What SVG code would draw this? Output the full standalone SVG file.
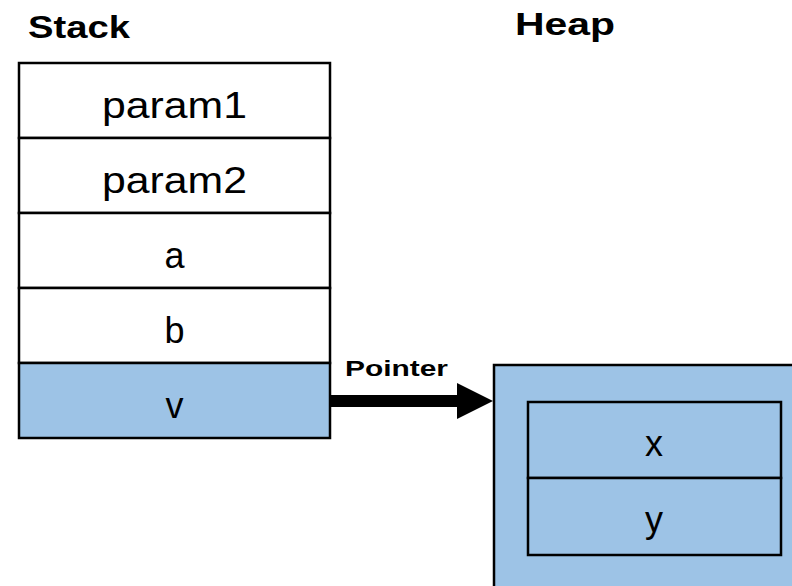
<svg xmlns="http://www.w3.org/2000/svg" width="792" height="586" viewBox="0 0 792 586">
  <style>
    .cell { stroke: #000; stroke-width: 2.5; }
    .plain { fill: #fff; }
    .blue { fill: #9DC3E6; }
    .title { font-family: "Liberation Sans", Arial, sans-serif; font-weight: bold; font-size: 32px; fill: #000; }
    .label { font-family: "Liberation Sans", Arial, sans-serif; font-size: 36px; fill: #000; text-anchor: middle; }
    .conn-label { font-family: "Liberation Sans", Arial, sans-serif; font-weight: bold; font-size: 22px; fill: #000; }
  </style>
  <defs>
    <marker id="arrowhead" markerUnits="userSpaceOnUse" markerWidth="36" markerHeight="36" refX="0" refY="18" orient="auto">
      <path d="M0,0 L36,18 L0,36 Z" fill="#000"/>
    </marker>
  </defs>
  <rect width="792" height="586" fill="#fff"/>

  <text class="title" x="28" y="38" textLength="102" lengthAdjust="spacingAndGlyphs">Stack</text>
  <text class="title" x="515" y="35" textLength="100" lengthAdjust="spacingAndGlyphs">Heap</text>

  <!-- stack frame -->
  <g id="stack">
    <g id="param1">
      <rect class="cell plain" x="19" y="63" width="311" height="75"/>
      <text class="label" x="174.5" y="118" textLength="145" lengthAdjust="spacingAndGlyphs">param1</text>
    </g>
    <g id="param2">
      <rect class="cell plain" x="19" y="138" width="311" height="75"/>
      <text class="label" x="174.5" y="193" textLength="145" lengthAdjust="spacingAndGlyphs">param2</text>
    </g>
    <g id="a">
      <rect class="cell plain" x="19" y="213" width="311" height="75"/>
      <text class="label" x="174.5" y="268">a</text>
    </g>
    <g id="b">
      <rect class="cell plain" x="19" y="288" width="311" height="75"/>
      <text class="label" x="174.5" y="343">b</text>
    </g>
    <g id="v">
      <rect class="cell blue" x="19" y="363" width="311" height="75"/>
      <text class="label" x="174.5" y="418">v</text>
    </g>
  </g>

  <!-- heap object -->
  <g id="heap">
    <rect class="cell blue" x="494" y="365" width="310" height="232"/>
    <g id="x">
      <rect class="cell blue" x="528" y="402" width="253" height="76"/>
      <text class="label" x="654" y="456">x</text>
    </g>
    <g id="y">
      <rect class="cell blue" x="528" y="478" width="253" height="77"/>
      <text class="label" x="654" y="532">y</text>
    </g>
  </g>

  <!-- connectors -->
  <g id="connectors">
    <line x1="331" y1="401" x2="457" y2="401" stroke="#000" stroke-width="12" marker-end="url(#arrowhead)"/>
    <text class="conn-label" x="345" y="376" textLength="103" lengthAdjust="spacingAndGlyphs">Pointer</text>
  </g>
</svg>
